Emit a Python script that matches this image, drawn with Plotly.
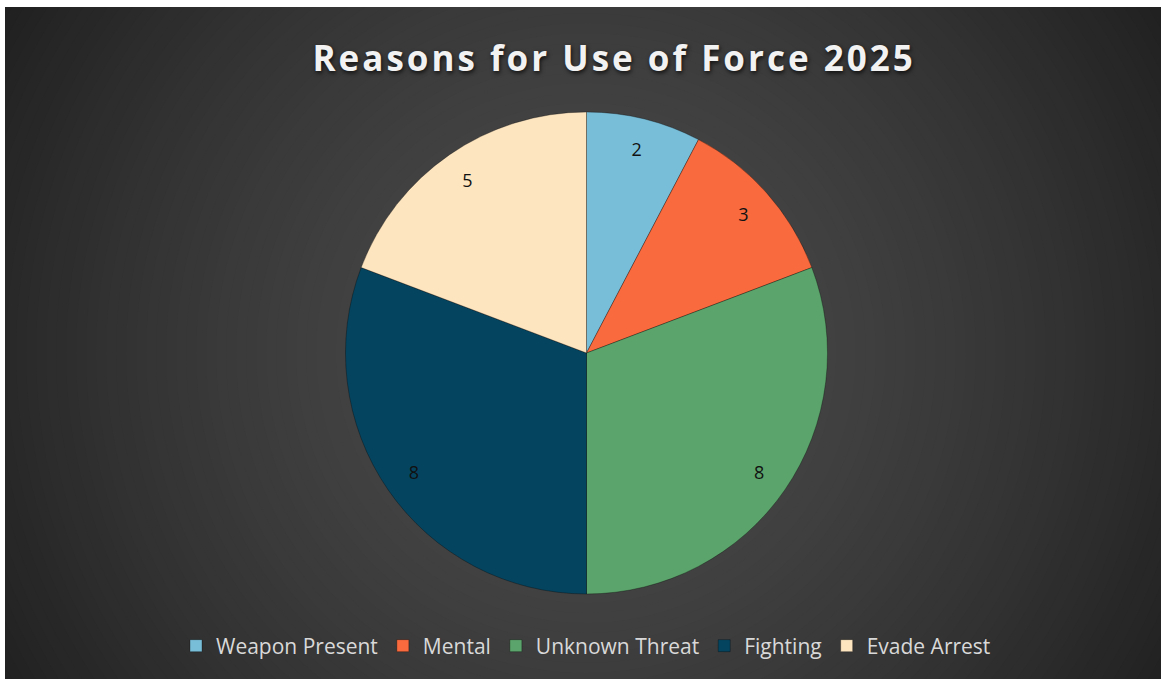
import plotly.graph_objects as go

# Chart data
categories = ["Weapon Present", "Mental", "Unknown Threat", "Fighting", "Evade Arrest"]
counts = [2, 3, 8, 8, 5]
slice_colors = ["#79BED8", "#F96A3E", "#5BA46B", "#05445F", "#FDE5C0"]
title_text = "Reasons for Use of Force 2025"

W, H = 1161, 679

def px_x(v):
    return v / W

def px_y(v):
    return 1 - v / H

# Radial background: concentric filled circles from dark edge to lighter centre
cx, cy = 586, 353
shapes = [dict(type="rect", xref="paper", yref="paper", x0=0, x1=1, y0=0, y1=1,
               fillcolor="#212121", line_width=0, layer="below")]
n_rings = 70
r_max = 700
for i in range(n_rings):
    r = r_max * (1 - i / n_rings)
    t = r / 680
    v = int(round(73 - 41 * min(t, 1.05) ** 1.6))
    v = max(v, 30)
    col = f"rgb({v},{v},{v})"
    shapes.append(dict(type="circle", xref="paper", yref="paper",
                       x0=px_x(cx - r), x1=px_x(cx + r),
                       y0=px_y(cy + r), y1=px_y(cy - r),
                       fillcolor=col, line_width=0, layer="below"))

# White frame strips on the top and left edges
shapes.append(dict(type="rect", xref="paper", yref="paper", x0=0, x1=1,
                   y0=px_y(7), y1=1, fillcolor="white", line_width=0, layer="above"))
shapes.append(dict(type="rect", xref="paper", yref="paper", x0=0, x1=px_x(5),
                   y0=0, y1=1, fillcolor="white", line_width=0, layer="above"))

domain = dict(x=[px_x(345), px_x(828)], y=[px_y(594), px_y(112)])

fig = go.Figure()

# Main pie, clockwise from 12 o'clock
fig.add_trace(go.Pie(
    labels=categories, values=counts, sort=False, direction="clockwise", rotation=0,
    marker=dict(colors=slice_colors, line=dict(color="rgba(0,0,0,0.3)", width=1)),
    textinfo="none", domain=domain, hoverinfo="label+value",
))

# Value labels placed in an outer ring so they sit near the rim
fig.add_trace(go.Pie(
    labels=categories, values=counts, sort=False, direction="clockwise", rotation=0,
    hole=0.74, marker=dict(colors=["rgba(0,0,0,0)"] * len(counts), line=dict(width=0)),
    textinfo="value", textposition="inside", insidetextorientation="horizontal",
    textfont=dict(family="Open Sans", size=18, color="#111111"),
    domain=domain, showlegend=False, hoverinfo="skip",
))

fig.update_layout(
    width=W, height=H,
    margin=dict(l=0, r=0, t=0, b=0),
    paper_bgcolor="white",
    plot_bgcolor="rgba(0,0,0,0)",
    shapes=shapes,
    showlegend=True,
    legend=dict(orientation="h", x=px_x(586), xanchor="center", y=px_y(646), yanchor="middle",
                font=dict(family="Open Sans", size=21, color="#D9D9D9"),
                bgcolor="rgba(0,0,0,0)", traceorder="normal"),
    annotations=[dict(text=f"<b>{title_text}</b>", xref="paper", yref="paper",
                      x=px_x(614), y=px_y(57), xanchor="center", yanchor="middle",
                      showarrow=False,
                      font=dict(family="Open Sans", size=35, color="#F2F2F2",
                                shadow="1px 2px 4px rgba(0,0,0,0.75)"))],
)

# Widen the title's letter spacing once the chart is drawn
post = """
document.querySelectorAll('.annotation-text').forEach(function(el){
  el.style.letterSpacing = '3px';
});
"""

fig.write_html("out.html", post_script=post)
